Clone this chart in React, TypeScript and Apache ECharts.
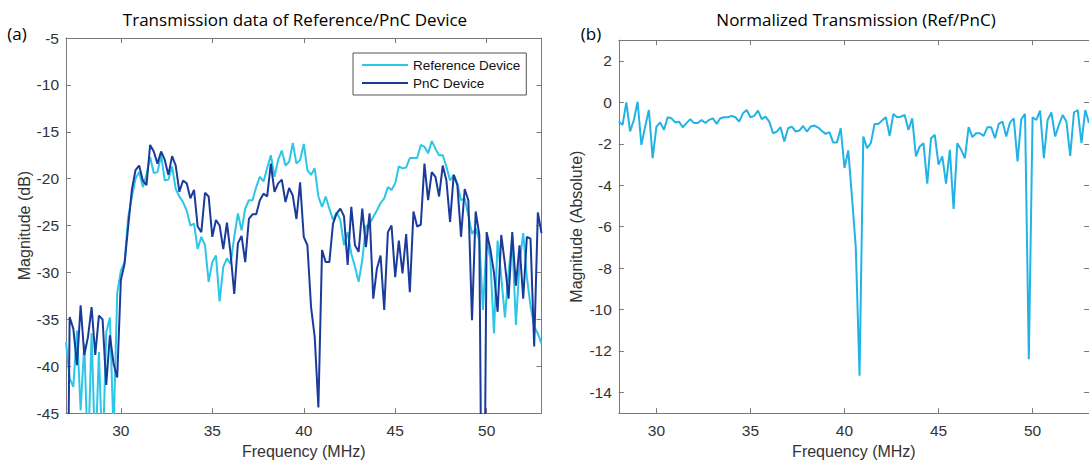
import React, { useEffect, useRef } from "react";
import * as echarts from "echarts";

// Sweep settings of the network analyser (MHz)
const SWEEP_STEP = 0.2;
const LEFT_START = 27;
const RIGHT_START = 28;

// |S21| of the reference device (dB), one value per sweep point from 27 MHz
const referenceDb = [
  -37.4, -41.3, -42.2, -36.2, -44.7, -37.6, -50, -36.5, -50, -38.5,
  -50, -36.4, -34.8, -47, -32.2, -29.8, -28.9, -24.1, -22.0, -20.0,
  -19.3, -20.9, -19.6, -17.7, -19.4, -19.3, -17.5, -20.2, -20.1, -18.7,
  -21.1, -21.9, -22.5, -23.4, -25.0, -24.8, -27.5, -26.2, -27.1, -31.0,
  -28.9, -28.2, -33.1, -29.4, -28.5, -29.1, -26.2, -23.7, -25.5, -23.2,
  -22.3, -22.3, -20.9, -19.8, -20.3, -18.9, -17.5, -19.8, -18.0, -17.0,
  -18.6, -18.2, -16.2, -18.4, -18.0, -16.3, -19.1, -19.6, -18.9, -21.9,
  -23.0, -21.9, -23.2, -24.4, -23.6, -24.4, -27.1, -25.7, -28.0, -29.4,
  -31.0, -28.7, -25.1, -24.8, -24.1, -23.4, -22.6, -22.1, -20.9, -21.2,
  -20.5, -18.7, -18.9, -18.8, -17.8, -17.8, -17.8, -16.4, -16.6, -17.3,
  -16.0, -16.8, -17.5, -17.5, -18.7, -20.2, -19.6, -20.5, -22.3, -22.1,
  -23.9, -25.9, -25.3, -26.6, -34.0, -26.6, -28.5, -36.5, -26.6, -30.5,
  -34.8, -30.0, -26.3, -35.6, -29.0, -25.8, -30.5, -33.6, -35.8, -36.5,
  -37.6,
];

// |S21| of the phononic-crystal device (dB), same sweep
const pncDb = [
  -75, -34.75, -36.0, -39.9, -33.5, -38.8, -36.9, -33.7, -38.8, -34.6,
  -35.0, -42.0, -36.7, -39.7, -41.2, -30.8, -29.1, -25.1, -21.2, -19.1,
  -18.6, -20.2, -20.7, -16.4, -17.1, -18.4, -17.1, -18.0, -19.6, -17.6,
  -18.6, -21.4, -20.2, -20.5, -22.1, -21.2, -25.1, -25.7, -21.5, -21.9,
  -26.2, -24.4, -25.0, -27.5, -24.7, -28.0, -32.3, -26.9, -26.1, -28.9,
  -24.3, -23.8, -23.8, -22.3, -21.6, -21.9, -18.4, -21.4, -20.5, -20.1,
  -22.5, -21.0, -21.8, -24.3, -20.4, -26.2, -27.1, -33.7, -36.9, -44.4,
  -27.6, -28.9, -28.9, -24.8, -23.7, -23.2, -24.0, -29.2, -23.0, -27.1,
  -27.8, -23.2, -27.3, -23.7, -32.8, -29.6, -28.2, -34.0, -25.7, -25.0,
  -30.5, -26.6, -30.1, -25.9, -32.1, -23.5, -25.1, -24.9, -18.4, -22.3,
  -19.3, -19.8, -21.9, -18.6, -20.2, -24.6, -19.6, -20.7, -26.2, -21.1,
  -22.3, -35.1, -23.5, -26.0, -75, -25.7, -27.5, -30.0, -34.2, -26.0,
  -29.1, -32.8, -25.7, -31.4, -27.1, -32.8, -26.2, -26.4, -37.9, -23.6,
  -25.8,
];

// Ref/PnC ratio, one value per sweep point from 28 MHz
const normalized = [
  -0.93, -1.09, 0.0, -1.4, -0.85, 0.03, -2.05, -1.17, -0.37, -2.69,
  -1.17, -0.97, -1.33, -0.72, -0.77, -0.97, -0.93, -1.2, -1.0, -0.81,
  -1.0, -1.0, -0.85, -1.0, -0.85, -0.77, -1.04, -0.77, -0.72, -0.72,
  -0.65, -0.72, -0.93, -0.53, -0.37, -0.72, -0.65, -0.4, -0.81, -0.69,
  -0.93, -1.49, -1.41, -1.2, -1.89, -1.25, -1.17, -1.41, -1.36, -1.14,
  -1.41, -1.17, -1.12, -1.22, -1.38, -1.52, -1.44, -1.94, -1.94, -1.25,
  -3.17, -2.32, -4.6, -7.0, -13.2, -1.65, -2.21, -1.97, -1.04, -1.04,
  -0.88, -0.72, -1.62, -0.56, -0.72, -0.69, -0.61, -1.33, -0.77, -2.61,
  -2.13, -1.97, -3.92, -1.73, -1.57, -3.01, -2.61, -3.92, -2.29, -5.14,
  -1.97, -2.29, -2.69, -1.2, -1.68, -1.49, -1.49, -1.62, -1.2, -1.2,
  -1.73, -1.04, -0.93, -1.65, -0.97, -0.77, -2.85, -0.81, -0.56, -12.4,
  -0.72, -0.85, -0.4, -2.69, -0.85, -0.49, -1.65, -1.09, -0.61, -0.93,
  -2.58, -0.49, -0.37, -1.97, -0.37, -1.0,
];

const freqTicks = [30, 35, 40, 45, 50];
const dbTicks = [-45, -40, -35, -30, -25, -20, -15, -10, -5];
const ratioTicks = [-14, -12, -10, -8, -6, -4, -2, 0, 2];

const COLOR_REF = "#2cc6e6";
const COLOR_PNC = "#1a3b9a";
const COLOR_NORM = "#22b3e6";
const FRAME = "#7a7a7a";
const LABEL = "#333333";
const AXIS_FONT = "Liberation Sans, Arial, sans-serif";
const TITLE_FONT = "'Open Sans', 'Noto Sans', sans-serif";

const pairUp = (start: number, values: number[]) =>
  values.map((v, i) => [Math.round((start + i * SWEEP_STEP) * 10) / 10, v]);

function frameAxis(
  kind: "x" | "y",
  gridIndex: number,
  position: string,
  min: number,
  max: number,
  ticks: number[],
  withLabels: boolean,
  name?: string,
  nameGap?: number
) {
  return {
    type: "value",
    gridIndex,
    position,
    min,
    max,
    name: name ?? "",
    nameLocation: "middle",
    nameGap: nameGap ?? 0,
    nameTextStyle: { fontFamily: AXIS_FONT, fontSize: 16, color: LABEL },
    axisLine: { show: true, onZero: false, lineStyle: { color: FRAME, width: 1 } },
    axisTick: {
      show: true,
      inside: true,
      length: 5,
      customValues: ticks,
      lineStyle: { color: FRAME, width: 1 },
    },
    axisLabel: {
      show: withLabels,
      customValues: ticks,
      margin: kind === "x" ? 9 : 7,
      fontFamily: AXIS_FONT,
      fontSize: 15.5,
      color: LABEL,
    },
    splitLine: { show: false },
  };
}

export default function App() {
  const ref = useRef<HTMLDivElement>(null);

  useEffect(() => {
    if (!ref.current) return;
    const chart = echarts.init(ref.current, undefined, { renderer: "svg" });

    chart.setOption({
      animation: false,
      backgroundColor: "#ffffff",
      grid: [
        { left: 66, top: 38, width: 475.5, height: 375.3 },
        { left: 618.8, top: 40.2, width: 473.2, height: 374.6 },
      ],
      xAxis: [
        frameAxis("x", 0, "bottom", 27, 53, freqTicks, true, "Frequency (MHz)", 29),
        frameAxis("x", 0, "top", 27, 53, freqTicks, false),
        frameAxis("x", 1, "bottom", 28, 53, freqTicks, true, "Frequency (MHz)", 29),
        frameAxis("x", 1, "top", 28, 53, freqTicks, false),
      ],
      yAxis: [
        frameAxis("y", 0, "left", -45, -5, dbTicks, true, "Magnitude (dB)", 33),
        frameAxis("y", 0, "right", -45, -5, dbTicks, false),
        frameAxis("y", 1, "left", -15, 3, ratioTicks, true, "Magnitude (Absolute)", 34),
        frameAxis("y", 1, "right", -15, 3, ratioTicks, false),
      ],
      legend: {
        data: ["Reference Device", "PnC Device"],
        orient: "vertical",
        left: 353,
        top: 53,
        icon: "rect",
        itemWidth: 46,
        itemHeight: 2,
        itemGap: 4,
        padding: [5, 6, 5, 9],
        borderColor: "#555555",
        borderWidth: 1,
        textStyle: { fontFamily: AXIS_FONT, fontSize: 13.5, color: "#111111" },
      },
      series: [
        {
          name: "Reference Device",
          type: "line",
          xAxisIndex: 0,
          yAxisIndex: 0,
          data: pairUp(LEFT_START, referenceDb),
          showSymbol: false,
          clip: true,
          color: COLOR_REF,
          lineStyle: { color: COLOR_REF, width: 2 },
        },
        {
          name: "PnC Device",
          type: "line",
          xAxisIndex: 0,
          yAxisIndex: 0,
          data: pairUp(LEFT_START, pncDb),
          showSymbol: false,
          clip: true,
          color: COLOR_PNC,
          lineStyle: { color: COLOR_PNC, width: 2 },
        },
        {
          name: "Ref/PnC",
          type: "line",
          xAxisIndex: 2,
          yAxisIndex: 2,
          data: pairUp(RIGHT_START, normalized),
          showSymbol: false,
          clip: true,
          color: COLOR_NORM,
          lineStyle: { color: COLOR_NORM, width: 2 },
        },
      ],
      graphic: [
        {
          type: "text",
          x: 295,
          y: 19,
          style: {
            text: "Transmission data of Reference/PnC Device",
            align: "center",
            verticalAlign: "middle",
            font: `17px ${TITLE_FONT}`,
            fill: "#000000",
          },
        },
        {
          type: "text",
          x: 856,
          y: 19,
          style: {
            text: "Normalized Transmission (Ref/PnC)",
            align: "center",
            verticalAlign: "middle",
            font: `17px ${TITLE_FONT}`,
            fill: "#000000",
          },
        },
        {
          type: "text",
          x: 17,
          y: 33,
          style: {
            text: "(a)",
            align: "center",
            verticalAlign: "middle",
            font: `17px ${TITLE_FONT}`,
            fill: "#000000",
          },
        },
        {
          type: "text",
          x: 591,
          y: 33,
          style: {
            text: "(b)",
            align: "center",
            verticalAlign: "middle",
            font: `17px ${TITLE_FONT}`,
            fill: "#000000",
          },
        },
      ],
    });

    return () => chart.dispose();
  }, []);

  return (
    <div
      ref={ref}
      style={{ position: "fixed", left: 0, top: 0, width: 1089, height: 464, background: "#fff" }}
    />
  );
}
